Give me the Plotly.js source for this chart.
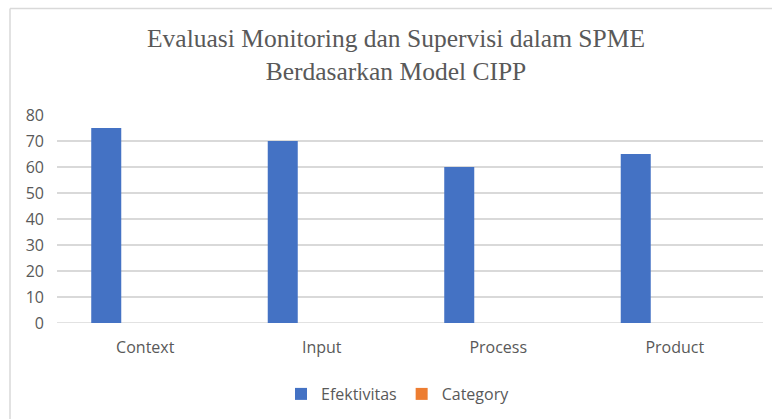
<!DOCTYPE html>
<html>
<head>
<meta charset="utf-8">
<script src="https://cdn.plot.ly/plotly-3.0.1.min.js"></script>
<style>
html,body{margin:0;padding:0;background:#fff;}
#chart{width:772px;height:419px;}
</style>
</head>
<body>
<div id="chart"></div>
<script>
const categories = ["Context", "Input", "Process", "Product"];
const efektivitas = [75, 70, 60, 65];
const categorySeries = [null, null, null, null];
const yTicks = [0, 10, 20, 30, 40, 50, 60, 70, 80];

const tickFont = {family: "Open Sans, sans-serif", size: 16, color: "#595959"};

const traces = [
  {
    type: "bar", name: "Efektivitas", x: categories, y: efektivitas,
    marker: {color: "#4472C4"}, width: 0.17, offset: -0.306, hoverinfo: "x+y"
  },
  {
    type: "bar", name: "Category", x: categories, y: categorySeries,
    marker: {color: "#ED7D31"}, width: 0.17, offset: -0.136
  }
];

const L = 57, R = 9, T = 115, B = 95, W = 772, H = 419;
const pw = W - L - R, ph = H - T - B;
const px = v => (v - L) / pw;
const py = v => (H - B - v) / ph;

const layout = {
  width: W, height: H,
  margin: {l: L, r: R, t: T, b: B, pad: 0},
  paper_bgcolor: "#ffffff", plot_bgcolor: "#ffffff",
  title: {
    text: "Evaluasi Monitoring dan Supervisi dalam SPME<br>Berdasarkan Model CIPP",
    font: {family: "Liberation Serif, Times New Roman, serif", size: 25.5, color: "#595959"},
    xref: "container", yref: "container", x: 396 / W, y: 1 - 47 / H,
    xanchor: "center", yanchor: "middle"
  },
  barmode: "group",
  showlegend: true,
  legend: {
    orientation: "h", xref: "paper", yref: "paper",
    x: px(398), y: py(394), xanchor: "center", yanchor: "middle",
    font: tickFont, itemwidth: 30, traceorder: "normal"
  },
  xaxis: {
    type: "category", range: [-0.5, 3.5], tickfont: tickFont,
    showgrid: false, zeroline: false, showline: false, ticks: "",
    ticklabelstandoff: 13
  },
  yaxis: {
    range: [0, 80], tickvals: yTicks, ticktext: yTicks.map(String),
    tickfont: tickFont, showgrid: true, gridcolor: "#d9d9d9", gridwidth: 1.5,
    zeroline: false, showline: false, ticks: "", ticklabelstandoff: 12
  },
  shapes: [
    {type: "line", xref: "paper", yref: "paper", x0: px(10), x1: px(10), y0: py(H + 5), y1: py(8),
     line: {color: "#d9d9d9", width: 1.5}},
    {type: "line", xref: "paper", yref: "paper", x0: px(10), x1: px(W + 5), y0: py(8), y1: py(8),
     line: {color: "#d9d9d9", width: 1.5}},
    {type: "line", xref: "paper", yref: "y", x0: 0, x1: 1, y0: 0, y1: 0, layer: "below",
     line: {color: "#d9d9d9", width: 1.5}}
  ]
};

Plotly.newPlot("chart", traces, layout, {displayModeBar: false, staticPlot: true});
</script>
</body>
</html>
